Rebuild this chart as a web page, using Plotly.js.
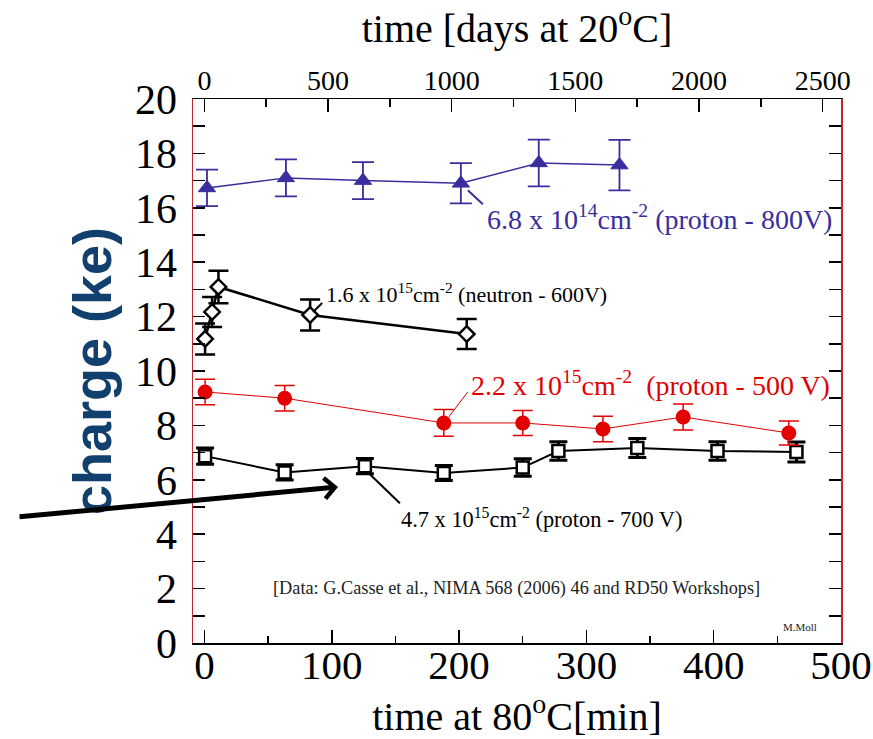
<!DOCTYPE html>
<html>
<head>
<meta charset="utf-8">
<script src="https://cdn.plot.ly/plotly-3.0.1.min.js"></script>
<style>
  html, body { margin: 0; padding: 0; background: #ffffff; }
  #chart { width: 873px; height: 739px; }
</style>
</head>
<body>
<div id="chart"></div>
<script>
// Collected charge after annealing at 80 °C (time in minutes)

// 6.8e14 cm^-2, proton irradiated, 800 V
const p800Time = [2, 64, 124.5, 201.4, 262.6, 326];
const p800Charge = [16.73, 17.1, 17.0, 16.9, 17.65, 17.57];
const p800Err = [0.67, 0.68, 0.68, 0.74, 0.86, 0.93];

// 1.6e15 cm^-2, neutron irradiated, 600 V
const n600Time = [0.5, 6, 11, 83, 206];
const n600Charge = [11.18, 12.17, 13.09, 12.06, 11.36];
const n600Err = [0.57, 0.55, 0.6, 0.57, 0.55];

// 2.2e15 cm^-2, proton irradiated, 500 V
const p500Time = [0.5, 63, 188, 250, 313, 376, 459];
const p500Charge = [9.23, 9.0, 8.09, 8.09, 7.87, 8.31, 7.72];
const p500Err = [0.47, 0.47, 0.49, 0.46, 0.47, 0.48, 0.44];

// 4.7e15 cm^-2, proton irradiated, 700 V
const p700Time = [0.5, 63, 126, 188, 250, 278, 340, 403, 465];
const p700Charge = [6.87, 6.27, 6.5, 6.25, 6.45, 7.06, 7.17, 7.06, 7.02];
const p700Err = [0.3, 0.28, 0.28, 0.28, 0.32, 0.34, 0.35, 0.34, 0.37];

// Axis extents
const minRange = [-9, 500];
const daysRange = [-46, 2574];
const chargeRange = [0, 20];

const SERIF = "Liberation Serif";
const BLUE = '#3a2d9e';
const RED = '#e20000';
const BLACK = '#000000';

function series(t, q, err, opts) {
  return {
    type: 'scatter',
    mode: 'lines+markers',
    x: t, y: q,
    cliponaxis: false,
    line: { color: opts.color, width: opts.lineWidth },
    marker: {
      symbol: opts.symbol, size: opts.size,
      color: opts.fill,
      line: { color: opts.color, width: opts.markerLine }
    },
    error_y: {
      type: 'data', array: err, visible: true,
      color: opts.color, thickness: opts.errThick, width: opts.capWidth
    },
    hoverinfo: 'x+y'
  };
}

const traces = [
  series(p700Time, p700Charge, p700Err, { color: BLACK, fill: '#ffffff', symbol: 'square', size: 12, lineWidth: 2, markerLine: 2.5, errThick: 3, capWidth: 9 }),
  series(p500Time, p500Charge, p500Err, { color: RED, fill: RED, symbol: 'circle', size: 15, lineWidth: 1, markerLine: 0, errThick: 1.5, capWidth: 10 }),
  series(n600Time, n600Charge, n600Err, { color: BLACK, fill: '#ffffff', symbol: 'diamond', size: 12, lineWidth: 2.5, markerLine: 2.5, errThick: 2.5, capWidth: 10 }),
  series(p800Time, p800Charge, p800Err, { color: BLUE, fill: BLUE, symbol: 'triangle-up', size: 15, lineWidth: 1.5, markerLine: 1, errThick: 1.8, capWidth: 11 }),
  // carries the top (days at 20 °C) axis
  { type: 'scatter', x: [], y: [], xaxis: 'x2', yaxis: 'y', showlegend: false, hoverinfo: 'skip' }
];

// leader line from a data point, offsets in pixels (y up)
function leader(xv, yv, x0, x1, y0, y1, color, width) {
  return {
    type: 'line', xref: 'x', yref: 'y',
    xsizemode: 'pixel', ysizemode: 'pixel',
    xanchor: xv, yanchor: yv,
    x0: x0, x1: x1, y0: y0, y1: y1,
    line: { color: color, width: width }
  };
}

// label placed relative to a data point
function label(xv, yv, dx, dy, text, color, size) {
  return {
    xref: 'x', yref: 'y', x: xv, y: yv,
    xshift: dx, yshift: dy,
    xanchor: 'left', yanchor: 'middle',
    showarrow: false, text: text,
    font: { family: SERIF, size: size, color: color }
  };
}

const shapes = [
  leader(p800Time[3], p800Charge[3], 7, 22, -7, -21, BLUE, 2),
  leader(n600Time[3], n600Charge[3], 3, 12, 3, 12, BLACK, 2),
  leader(p500Time[2], p500Charge[2], 5, 24, 6, 31, RED, 1),
  leader(p700Time[2], p700Charge[2], 5, 35, -8, -37, BLACK, 2)
];

const NB = '\u00A0';
const annotations = [
  label(p800Time[3], p800Charge[3], 24, -34, '6.8 x 10<sup>14</sup>cm<sup>-2</sup> (proton - 800V)', BLUE, 28),
  label(n600Time[3], n600Charge[3], 14, 22, '1.6 x 10<sup>15</sup>cm<sup>-2</sup> (neutron - 600V)', BLACK, 22),
  label(p500Time[2], p500Charge[2], 25, 39, '2.2 x 10<sup>15</sup>cm<sup>-2</sup>' + NB + NB + '(proton - 500 V)', RED, 28),
  label(p700Time[2], p700Charge[2], 34, -52, '4.7 x 10<sup>15</sup>cm<sup>-2</sup> (proton - 700 V)', BLACK, 22.4),
  {
    xref: 'paper', yref: 'paper', x: 0.4985, y: 0.101,
    xanchor: 'center', yanchor: 'middle', showarrow: false,
    text: '[Data: G.Casse et al., NIMA 568 (2006) 46 and RD50 Workshops]',
    font: { family: SERIF, size: 18.3, color: '#222222' }
  },
  {
    xref: 'paper', yref: 'paper', x: 0.937, y: 0.029,
    xanchor: 'center', yanchor: 'middle', showarrow: false,
    text: 'M.Moll',
    font: { family: SERIF, size: 11, color: '#222222' }
  },
  // pointer arrow
  {
    xref: 'paper', yref: 'paper', x: 0.2238, y: 0.2868,
    axref: 'pixel', ayref: 'pixel', ax: -320, ay: 30,
    text: '', showarrow: true,
    arrowhead: 4, arrowsize: 0.8, arrowwidth: 5, arrowcolor: BLACK,
    standoff: 0, startstandoff: 0
  }
];

const layout = {
  width: 873, height: 739,
  margin: { l: 193, r: 32, t: 99, b: 96, pad: 0 },
  paper_bgcolor: '#ffffff', plot_bgcolor: '#ffffff',
  font: { family: SERIF, color: BLACK },
  showlegend: false,
  xaxis: {
    range: minRange, showgrid: false, zeroline: false,
    showline: true, linecolor: BLACK, linewidth: 1.5, mirror: false,
    ticks: 'inside', ticklen: 13, tickwidth: 1.5, tickcolor: BLACK,
    dtick: 100, tick0: 0,
    minor: { dtick: 50, ticks: 'inside', ticklen: 7, tickwidth: 1.5, tickcolor: BLACK },
    tickfont: { family: SERIF, size: 41, color: BLACK },
    title: { text: 'time at 80<sup>o</sup>C[min]', font: { family: SERIF, size: 40, color: BLACK }, standoff: 0 }
  },
  xaxis2: {
    range: daysRange, overlaying: 'x', side: 'top', anchor: 'y',
    showgrid: false, zeroline: false,
    showline: true, linecolor: BLACK, linewidth: 1.5,
    ticks: 'inside', ticklen: 13, tickwidth: 1.5, tickcolor: BLACK,
    dtick: 500, tick0: 0,
    minor: { dtick: 250, ticks: 'inside', ticklen: 8, tickwidth: 1.5, tickcolor: BLACK },
    tickfont: { family: SERIF, size: 28, color: BLACK },
    title: { text: 'time [days at 20<sup>o</sup>C]', font: { family: SERIF, size: 40, color: BLACK }, standoff: 6 }
  },
  yaxis: {
    range: chargeRange, showgrid: false, zeroline: false,
    showline: true, linecolor: '#c0282d', linewidth: 1.5, mirror: 'ticks',
    ticks: 'inside', ticklen: 12, tickwidth: 1.5, tickcolor: BLACK,
    dtick: 2, tick0: 0,
    minor: { dtick: 1, ticks: 'inside', ticklen: 12, tickwidth: 1.5, tickcolor: BLACK },
    ticklabelstandoff: 6,
    tickfont: { family: SERIF, size: 42, color: BLACK },
    title: {
      text: 'charge (ke)',
      font: { family: "Liberation Sans", size: 54, color: '#12406e', weight: 'bold' },
      standoff: 6
    }
  },
  shapes: shapes,
  annotations: annotations
};

// nudge a set of tick labels closer to their axis line
function nudge(selector, dy) {
  document.querySelectorAll(selector).forEach(function (t) {
    const tr = t.getAttribute('transform') || '';
    t.setAttribute('transform', tr + ' translate(0,' + dy + ')');
  });
}

Plotly.newPlot('chart', traces, layout, { displayModeBar: false, staticPlot: true }).then(function () {
  nudge('#chart svg g.xtick text', -15);
  nudge('#chart svg g.x2tick text', 4);
});
</script>
</body>
</html>
